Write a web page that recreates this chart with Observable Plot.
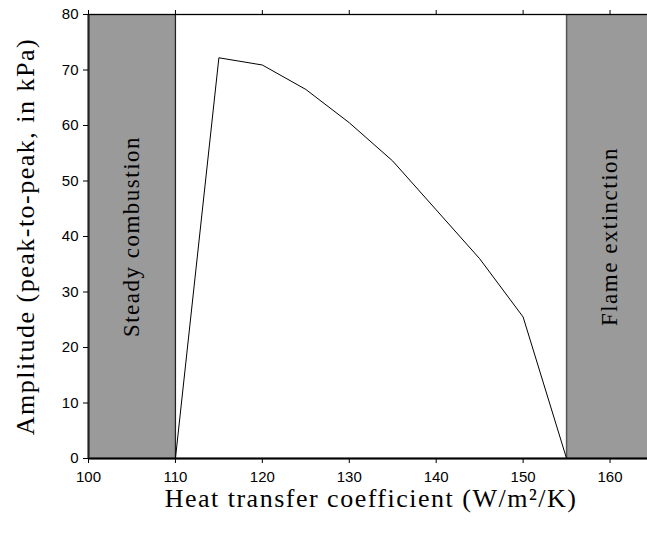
<!DOCTYPE html>
<html>
<head>
<meta charset="utf-8">
<script src="https://cdn.jsdelivr.net/npm/d3@7"></script>
<script src="https://cdn.jsdelivr.net/npm/@observablehq/plot@0.6"></script>
<style>
  html, body { margin: 0; padding: 0; background: #fff; overflow: hidden; }
  #chart { width: 647px; height: 534px; overflow: hidden; }
  #chart svg { max-width: none !important; }
  .serif-label text { letter-spacing: 1.5px; }
</style>
</head>
<body>
<div id="chart"></div>
<script>
// Data
const heatCoeff = [110, 115, 120, 125, 130, 135, 140, 145, 150, 155];
const amplitude = [0, 72.2, 70.9, 66.5, 60.5, 53.6, 44.8, 36.0, 25.5, 0];
const regionStart = [100, 155];
const regionEnd = [110, 165];
const regionLabels = ["Steady combustion", "Flame extinction"];
const xTicks = [100, 110, 120, 130, 140, 150, 160];
const yTicks = [0, 10, 20, 30, 40, 50, 60, 70, 80];
const xLabel = "Heat transfer coefficient (W/m²/K)";
const yLabel = "Amplitude (peak-to-peak, in kPa)";

const curve = heatCoeff.map((x, i) => ({x, y: amplitude[i]}));
const regions = regionStart.map((x1, i) => ({x1, x2: regionEnd[i], xm: (x1 + regionEnd[i]) / 2, label: regionLabels[i]}));

const serif = "'Liberation Serif', 'DejaVu Serif', serif";
const sans = "'Liberation Sans', Arial, sans-serif";

const chart = Plot.plot({
  width: 653,
  height: 534,
  marginLeft: 88,
  marginRight: 0,
  marginTop: 14,
  marginBottom: 76,
  style: {fontFamily: sans, fontSize: "15px", color: "#000", background: "#fff", overflow: "visible", maxWidth: "none"},
  x: {domain: [100, 165]},
  y: {domain: [0, 80]},
  marks: [
    Plot.rect(regions, {x1: "x1", x2: "x2", y1: 0, y2: 80, fill: "#9a9a9a"}),
    Plot.ruleX([regionEnd[0]], {stroke: "#222", strokeWidth: 1.3}),
    Plot.ruleX([regionStart[1]], {stroke: "#555", strokeWidth: 1.5}),
    Plot.text(regions, {x: "xm", y: 40, text: "label", rotate: -90, fontFamily: serif, fontSize: 23, fill: "#000", className: "serif-label"}),
    Plot.line(curve, {x: "x", y: "y", stroke: "#000", strokeWidth: 1}),
    Plot.frame({stroke: "#000", strokeWidth: 1.3}),
    Plot.ruleY([0], {stroke: "#000", strokeWidth: 2}),
    Plot.ruleX([100], {stroke: "#222", strokeWidth: 2}),
    Plot.axisX(xTicks, {anchor: "bottom", tickSize: 5, tickPadding: 8, label: null, fontSize: 15}),
    Plot.axisX(xTicks, {anchor: "top", tickSize: 5, tickFormat: () => "", label: null}),
    Plot.axisY(yTicks, {anchor: "left", tickSize: 5, tickPadding: 5, label: null, fontSize: 15}),
    Plot.text([xLabel], {frameAnchor: "bottom", textAnchor: "middle", lineAnchor: "middle", dy: 40, fontFamily: serif, fontSize: 26, fill: "#000", className: "serif-label"}),
    Plot.text([yLabel], {frameAnchor: "left", textAnchor: "middle", lineAnchor: "middle", dx: -63, rotate: -90, fontFamily: serif, fontSize: 26, fill: "#000", className: "serif-label"})
  ]
});
chart.style.maxWidth = "none";
document.getElementById("chart").appendChild(chart);
</script>
</body>
</html>
